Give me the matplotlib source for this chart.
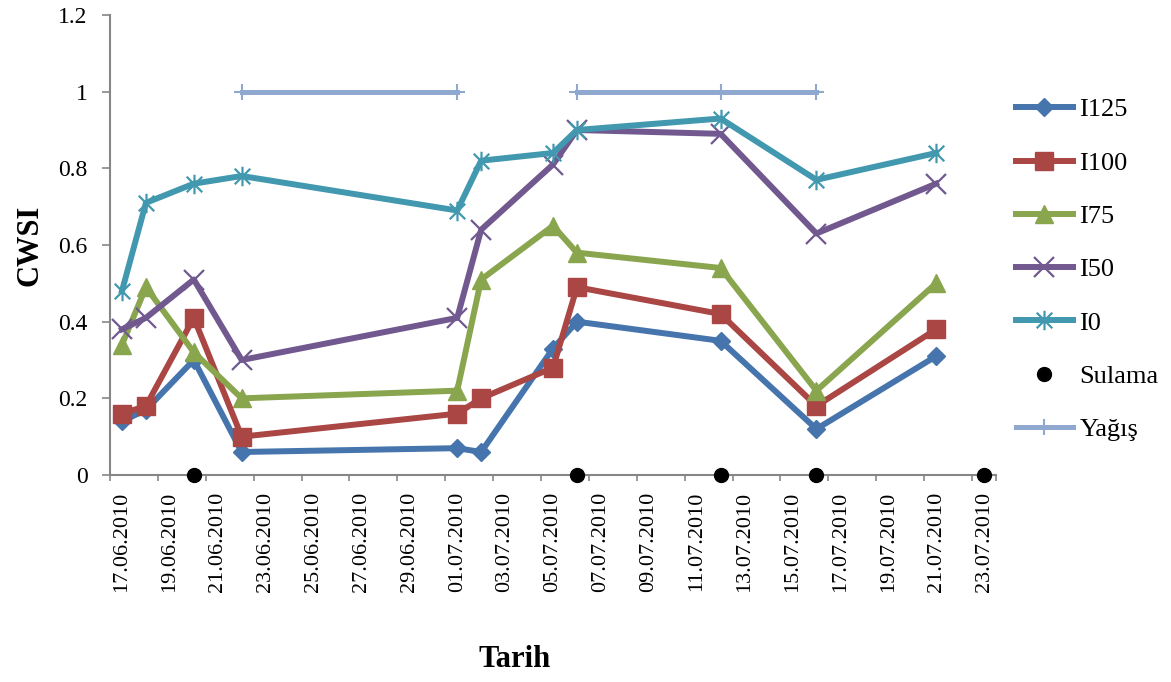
import numpy as np
import pandas as pd
import matplotlib
matplotlib.use("Agg")
import matplotlib.pyplot as plt
import matplotlib.dates as mdates
from matplotlib.path import Path

# ---- data ----
dates = ["17.06.2010", "18.06.2010", "20.06.2010", "22.06.2010", "01.07.2010", "02.07.2010",
         "05.07.2010", "06.07.2010", "12.07.2010", "16.07.2010", "21.07.2010"]
I125 = [0.14, 0.17, 0.30, 0.06, 0.07, 0.06, 0.33, 0.40, 0.35, 0.12, 0.31]
I100 = [0.16, 0.18, 0.41, 0.10, 0.16, 0.20, 0.28, 0.49, 0.42, 0.18, 0.38]
I75 = [0.34, 0.49, 0.32, 0.20, 0.22, 0.51, 0.65, 0.58, 0.54, 0.22, 0.50]
I50 = [0.38, 0.41, 0.51, 0.30, 0.41, 0.64, 0.81, 0.90, 0.89, 0.63, 0.76]
I0 = [0.48, 0.71, 0.76, 0.78, 0.69, 0.82, 0.84, 0.90, 0.93, 0.77, 0.84]

sulama_dates = ["20.06.2010", "06.07.2010", "12.07.2010", "16.07.2010", "23.07.2010"]
sulama = [0, 0, 0, 0, 0]

yagis_dates = ["22.06.2010", "01.07.2010", "02.07.2010", "06.07.2010", "12.07.2010", "16.07.2010"]
yagis = [1, 1, np.nan, 1, 1, 1]

tick_labels = ["17.06.2010", "19.06.2010", "21.06.2010", "23.06.2010", "25.06.2010", "27.06.2010",
               "29.06.2010", "01.07.2010", "03.07.2010", "05.07.2010", "07.07.2010", "09.07.2010",
               "11.07.2010", "13.07.2010", "15.07.2010", "17.07.2010", "19.07.2010", "21.07.2010",
               "23.07.2010"]
y_ticks = [0, 0.2, 0.4, 0.6, 0.8, 1, 1.2]
y_tick_labels = ["0", "0.2", "0.4", "0.6", "0.8", "1", "1.2"]


def to_num(lst):
    return mdates.date2num(pd.to_datetime(lst, format="%d.%m.%Y"))


x = to_num(dates)
xs = to_num(sulama_dates)
xy = to_num(yagis_dates)
xt = to_num(tick_labels)

plt.rcParams['font.family'] = ['Liberation Serif', 'DejaVu Serif']

fig = plt.figure(figsize=(11.71, 6.82), dpi=100)
ax = fig.add_axes([110 / 1171, 1 - 475 / 682, (996 - 110) / 1171, (475 - 15) / 682])

c125 = '#4674AC'
c100 = '#AA4643'
c75 = '#89A54E'
c50 = '#71588F'
c0 = '#4198AF'
cy = '#8FA8D0'

lw = 4.3
ax.plot(x, I125, color=c125, lw=lw, marker='D', ms=9.5, mfc=c125, mec=c125, label='I125', zorder=3)
ax.plot(x, I100, color=c100, lw=lw, marker='s', ms=13.5, mfc=c100, mec=c100, label='I100', zorder=3)
ax.plot(x, I75, color=c75, lw=lw, marker='^', ms=13.5, mfc=c75, mec=c75, label='I75', zorder=3)
ax.plot(x, I50, color=c50, lw=lw, marker='x', ms=14, mew=1.6, mec=c50, label='I50', zorder=3)
ast = Path([(-1, -1), (1, 1), (-1, 1), (1, -1), (0, -1.25), (0, 1.25)],
           [Path.MOVETO, Path.LINETO, Path.MOVETO, Path.LINETO, Path.MOVETO, Path.LINETO])
ax.plot(x, I0, color=c0, lw=lw, marker=ast, ms=14, mew=1.6, mec=c0, mfc='none', label='I0', zorder=3)
ax.plot(xs, sulama, ls='none', marker='o', ms=10, color='black', label='Sulama', clip_on=False, zorder=6)
ax.plot(xy, yagis, color=cy, lw=3.6, marker='+', ms=12, mew=1.5, mec=cy, label='Yağış', zorder=3)

ax.set_xlim(xt[0] - 0.5, xt[-1] + 0.5)
ax.set_ylim(0, 1.2)

ax.set_yticks(y_ticks)
ax.set_yticklabels(y_tick_labels)
ax.set_xticks(xt)
ax.set_xticklabels(tick_labels, rotation=90)
ax.set_xticks(np.concatenate([xt - 0.5, [xt[-1] + 0.5]]), minor=True)

grey = '#868686'
for s in ['top', 'right']:
    ax.spines[s].set_visible(False)
for s in ['left', 'bottom']:
    ax.spines[s].set_color(grey)
    ax.spines[s].set_linewidth(1.5)
ax.tick_params(axis='y', length=6, width=1.2, color=grey, labelsize=17, pad=10)
ax.tick_params(axis='x', which='major', length=0, labelsize=16, pad=12)
ax.tick_params(axis='x', which='minor', length=4.5, width=1.2, color=grey, direction='out')

ax.set_ylabel('CWSI', fontsize=22, fontweight='bold', labelpad=10)
ax.set_xlabel('Tarih', fontsize=22, fontweight='bold')
ax.xaxis.set_label_coords((515 - 110) / 886, (475 - 645) / 460)

leg = fig.legend(loc='upper left', bbox_to_anchor=(1016 / 1171, 1 - 98 / 682), frameon=False,
                 fontsize=19, borderpad=0, borderaxespad=0, handlelength=2.15, handletextpad=0.25,
                 labelspacing=1.13, numpoints=1)

fig.savefig('out.png', dpi=100)
